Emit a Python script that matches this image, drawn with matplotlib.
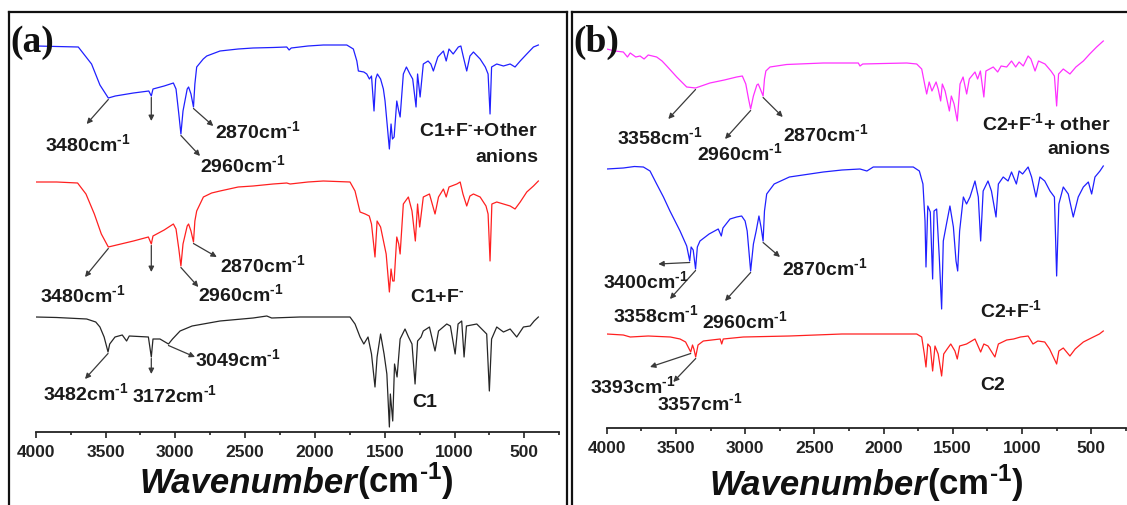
import numpy as np
import matplotlib
matplotlib.use('Agg')
import matplotlib.pyplot as plt
from matplotlib import font_manager
from matplotlib.lines import Line2D
from matplotlib.ticker import MultipleLocator

# FT-IR spectra, stacked (wavenumber in cm-1, transmittance in a.u. with offsets)
c1_other_wn = [4000, 3993, 3850, 3695, 3600, 3540, 3480, 3430, 3300, 3190, 3172, 3160, 3080, 3014, 2995,
               2975, 2960, 2945, 2915, 2905, 2888, 2870, 2860, 2847, 2800, 2775, 2680, 2550, 2443, 2300,
               2202, 2185, 2170, 2050, 1940, 1772, 1725, 1700, 1689, 1650, 1629, 1610, 1595, 1577, 1565,
               1553, 1530, 1510, 1498, 1467, 1455, 1445, 1433, 1414, 1400, 1390, 1367, 1345, 1320, 1300,
               1276, 1265, 1247, 1224, 1190, 1170, 1152, 1120, 1080, 1060, 1040, 1010, 973, 955, 937,
               913, 890, 865, 817, 780, 760, 746, 735, 698, 650, 602, 567, 530, 483, 435, 400]
c1_other_t = [386, 386, 385.5, 385, 368, 347, 334, 336, 339, 341, 336, 343, 346, 349, 343,
              318, 298, 321, 343, 345, 338, 325, 348, 365, 373, 376, 381, 383, 384, 384.5,
              385, 382, 384, 386, 387, 387, 383, 371, 361, 360, 358, 353, 356, 321, 353,
              358, 353, 343, 331, 283, 308, 293, 295, 331, 321, 315, 358, 365, 358, 353,
              325, 358, 335, 368, 371, 368, 361, 375, 381, 371, 383, 378, 385, 386, 375,
              361, 376, 380, 373, 365, 358, 318, 365, 368, 366, 368, 365, 371, 378, 385, 387]

c1_f_wn = [4000, 3850, 3700, 3640, 3580, 3530, 3480, 3420, 3300, 3193, 3172, 3160, 3080, 3014, 2995,
           2975, 2960, 2945, 2915, 2905, 2888, 2870, 2860, 2847, 2799, 2740, 2680, 2550, 2443, 2300,
           2202, 2178, 2050, 1940, 1749, 1713, 1677, 1640, 1611, 1595, 1570, 1555, 1530, 1490, 1467,
           1455, 1443, 1433, 1414, 1400, 1390, 1367, 1331, 1305, 1281, 1265, 1250, 1224, 1180, 1140,
           1115, 1080, 1060, 1040, 984, 960, 940, 913, 890, 865, 817, 775, 760, 746, 733,
           698, 650, 602, 567, 530, 483, 435, 400]
c1_f_t = [250, 250, 249, 238, 218, 198, 185, 187, 191, 195, 188, 196, 202, 208, 203,
          183, 166, 188, 206, 208, 201, 190, 211, 221, 235, 239, 241, 245, 246, 248,
          249, 248, 250, 251, 250, 241, 220, 218, 216, 208, 175, 211, 205, 178, 140,
          163, 151, 151, 195, 188, 178, 228, 235, 221, 191, 228, 205, 235, 238, 218,
          235, 243, 235, 245, 248, 250, 238, 226, 236, 238, 235, 226, 218, 171, 228,
          230, 228, 226, 223, 230, 240, 246, 251]

c1_wn = [4000, 3850, 3635, 3570, 3540, 3510, 3482, 3470, 3432, 3380, 3349, 3330, 3193, 3172, 3160,
         3110, 3049, 3020, 2966, 2880, 2680, 2443, 2345, 2310, 2107, 1940, 1830, 1749, 1713, 1677,
         1650, 1620, 1595, 1570, 1555, 1530, 1505, 1485, 1467, 1460, 1443, 1430, 1412, 1390, 1355,
         1330, 1305, 1283, 1265, 1240, 1224, 1180, 1140, 1115, 1056, 1030, 996, 975, 949, 932,
         915, 841, 770, 751, 735, 698, 650, 602, 555, 507, 459, 430, 400]
c1_t = [115, 114.5, 113, 110, 105, 95, 80, 88, 95, 97, 91, 96, 95, 75, 93,
        93, 88, 93, 101, 106, 111, 114, 116, 114, 115, 115, 115, 115, 108, 95,
        88, 95, 78, 45, 75, 98, 78, 58, 5, 38, 11, 68, 55, 93, 103,
        95, 88, 48, 91, 95, 101, 105, 81, 101, 108, 106, 78, 108, 111, 75,
        106, 108, 98, 41, 93, 105, 100, 103, 95, 105, 106, 111, 115]

c2_other_wn = [4000, 3940, 3880, 3850, 3830, 3790, 3759, 3730, 3700, 3639, 3600, 3566, 3494, 3422, 3358,
               3254, 3150, 3061, 3020, 2995, 2975, 2960, 2940, 2915, 2905, 2890, 2870, 2860, 2850, 2820,
               2700, 2435, 2300, 2182, 2170, 2150, 2000, 1832, 1760, 1724, 1700, 1688, 1670, 1650, 1620,
               1605, 1587, 1575, 1555, 1524, 1510, 1490, 1467, 1447, 1425, 1399, 1380, 1339, 1320, 1300,
               1275, 1260, 1207, 1175, 1150, 1110, 1075, 1045, 1020, 990, 955, 935, 905, 880, 833,
               790, 765, 749, 735, 701, 653, 610, 556, 510, 460, 412]
c2_other_t = [379, 377, 376, 371, 375, 371, 372, 369, 373, 371, 367, 362, 351, 341, 340,
              345, 348, 351, 352, 344, 329, 319, 332, 343, 344, 339, 332, 349, 357, 361,
              363.5, 365, 365, 365, 362, 364, 364.5, 365, 364, 359, 342, 334, 346, 337, 346,
              339, 327, 344, 337, 317, 332, 324, 307, 344, 351, 334, 349, 356, 349, 357,
              331, 357, 361, 356, 362, 361, 367, 361, 366, 362, 372, 369, 357, 367, 364,
              357, 352, 322, 354, 359, 354, 361, 367, 374, 381, 387]

c2_f_wn = [4000, 3880, 3800, 3735, 3687, 3639, 3590, 3543, 3470, 3422, 3400, 3390, 3375, 3358, 3345,
           3326, 3260, 3194, 3172, 3160, 3109, 3061, 3025, 3000, 2985, 2960, 2940, 2920, 2900, 2885,
           2870, 2860, 2844, 2790, 2680, 2435, 2300, 2170, 2120, 2074, 1929, 1785, 1741, 1715, 1700,
           1693, 1680, 1662, 1645, 1635, 1616, 1597, 1580, 1568, 1545, 1520, 1495, 1476, 1464, 1450,
           1423, 1400, 1375, 1339, 1315, 1298, 1280, 1245, 1220, 1187, 1170, 1135, 1100, 1075, 1040,
           1020, 995, 955, 930, 898, 870, 835, 797, 765, 749, 733, 701, 665, 629, 593,
           556, 520, 496, 472, 436, 412]
c2_f_t = [259, 260, 261.5, 261, 257, 244, 231, 217, 197, 182, 167, 181, 178, 159, 181,
          187, 194, 199, 192, 200, 209, 211, 212, 207, 197, 157, 184, 197, 212, 201,
          187, 217, 234, 244, 251, 256, 258, 259, 257, 261, 261, 261, 257, 244, 207,
          161, 222, 216, 149, 217, 219, 171, 119, 187, 204, 222, 201, 167, 157, 197,
          231, 224, 231, 247, 231, 187, 237, 247, 237, 211, 244, 251, 247, 256, 244,
          257, 254, 261, 251, 231, 251, 247, 237, 231, 152, 224, 241, 234, 211, 231,
          241, 246, 234, 251, 257, 262]

c2_wn = [4000, 3880, 3830, 3700, 3540, 3470, 3430, 3393, 3380, 3370, 3357, 3340, 3302, 3180, 3169,
         3158, 3013, 2680, 2300, 2146, 2000, 1760, 1724, 1705, 1693, 1680, 1662, 1645, 1628, 1605,
         1580, 1565, 1540, 1514, 1484, 1467, 1450, 1400, 1339, 1298, 1275, 1245, 1195, 1170, 1110,
         1060, 1010, 955, 920, 885, 835, 800, 749, 733, 701, 653, 615, 556, 484, 440, 412]
c2_t = [94, 93, 91, 92, 91, 89, 86, 76, 83, 79, 71, 83, 87, 89, 84,
        89, 91, 92, 94, 94, 94, 94, 91, 74, 61, 84, 81, 57, 82, 74,
        52, 74, 79, 84, 77, 69, 82, 84, 89, 76, 84, 82, 71, 84, 88,
        89, 91, 92, 84, 87, 86, 79, 64, 77, 80, 72, 79, 86, 91, 94, 97]

installed = {f.name for f in font_manager.fontManager.ttflist}
SANS = next((n for n in ('Liberation Sans Narrow', 'Arial Narrow', 'Liberation Sans')
             if n in installed), 'DejaVu Sans')
NARROW = SANS != 'Liberation Sans'
plt.rcParams['font.family'] = [SANS, 'DejaVu Sans']
plt.rcParams['font.weight'] = 'bold'

# short hyphen (U+2010) so mathtext does not swap in a wide minus sign
SUP1 = '$\\mathregular{^{\u20101}}$'
SUPM = '$\\mathregular{^{\u2010}}$'
ARROW_C = '#3a3a3a'
TXT_C = '#1a1a1a'
LBL = 16 if NARROW else 14
TICK = 14 if NARROW else 12.5
XLAB = 28 if NARROW else 25

W, H = 1127, 506
fig = plt.figure(figsize=(W / 100, H / 100), dpi=100)
ax_a = fig.add_axes([35.7 / W, 73 / H, 523.6 / W, 433 / H])
ax_b = fig.add_axes([606.7 / W, 77 / H, 519.0 / W, 429 / H])
ax_a.set_ylim(0, 433)
ax_b.set_ylim(0, 429)

for ax in (ax_a, ax_b):
    ax.set_xlim(4000, 250)
    ax.patch.set_visible(False)
    for side in ('top', 'left', 'right'):
        ax.spines[side].set_visible(False)
    ax.spines['bottom'].set_linewidth(1.3)
    ax.spines['bottom'].set_color('#222222')
    ax.set_yticks([])
    ax.xaxis.set_major_locator(MultipleLocator(500))
    ax.xaxis.set_minor_locator(MultipleLocator(250))
    ax.tick_params(axis='x', which='major', direction='out', length=4, width=1.2,
                   pad=4.5, labelsize=TICK, colors='#222222')
    ax.tick_params(axis='x', which='minor', direction='out', length=2.5, width=1.2,
                   colors='#222222')


def trace_at(wn, t, x):
    return np.interp(x, wn[::-1], t[::-1])


def mark_peak(ax, wn, t, x, head):
    y = trace_at(wn, t, x) - 1.5
    ax.annotate('', xy=head, xytext=(x, y),
                arrowprops=dict(arrowstyle='-|>', color=ARROW_C, lw=0.9,
                                mutation_scale=8, shrinkA=0, shrinkB=0))


def peak_label(ax, x, y, value):
    ax.text(x, y, f'{value}cm' + SUP1, ha='left', va='center', fontsize=LBL, color=TXT_C)


# ---- panel (a) ----
ax_a.plot(c1_other_wn, c1_other_t, color='#2020ff', lw=0.9)
ax_a.plot(c1_f_wn, c1_f_t, color='#ff2020', lw=0.9)
ax_a.plot(c1_wn, c1_t, color='#262626', lw=0.9)

mark_peak(ax_a, c1_other_wn, c1_other_t, 3480, (3635, 308))
mark_peak(ax_a, c1_other_wn, c1_other_t, 3172, (3172, 311))
mark_peak(ax_a, c1_other_wn, c1_other_t, 2870, (2728, 306))
mark_peak(ax_a, c1_other_wn, c1_other_t, 2960, (2823, 276))
peak_label(ax_a, 3933, 289, 3480)
peak_label(ax_a, 2716, 302, 2870)
peak_label(ax_a, 2823, 268, 2960)

mark_peak(ax_a, c1_f_wn, c1_f_t, 3480, (3647, 155))
mark_peak(ax_a, c1_f_wn, c1_f_t, 3172, (3172, 160))
mark_peak(ax_a, c1_f_wn, c1_f_t, 2870, (2703, 175))
mark_peak(ax_a, c1_f_wn, c1_f_t, 2960, (2835, 145))
peak_label(ax_a, 3969, 138, 3480)
peak_label(ax_a, 2680, 168, 2870)
peak_label(ax_a, 2837, 139, 2960)

mark_peak(ax_a, c1_wn, c1_t, 3482, (3647, 53))
mark_peak(ax_a, c1_wn, c1_t, 3172, (3172, 58))
mark_peak(ax_a, c1_wn, c1_t, 3049, (2859, 75))
peak_label(ax_a, 3948, 40, 3482)
peak_label(ax_a, 3310, 38, 3172)
peak_label(ax_a, 2859, 74, 3049)

ax_a.text(402, 301, 'C1+F' + SUPM + '+Other', ha='right', va='center', fontsize=LBL, color=TXT_C)
ax_a.text(402, 275, 'anions', ha='right', va='center', fontsize=LBL, color=TXT_C)
ax_a.text(1319, 136, 'C1+F' + SUPM, ha='left', va='center', fontsize=LBL, color=TXT_C)
ax_a.text(1305, 30, 'C1', ha='left', va='center', fontsize=LBL, color=TXT_C)

# ---- panel (b) ----
ax_b.plot(c2_other_wn, c2_other_t, color='#ff30ff', lw=0.9)
ax_b.plot(c2_f_wn, c2_f_t, color='#2020ff', lw=0.9)
ax_b.plot(c2_wn, c2_t, color='#ff2020', lw=0.9)

mark_peak(ax_b, c2_other_wn, c2_other_t, 3358, (3555, 309))
mark_peak(ax_b, c2_other_wn, c2_other_t, 2960, (3145, 289))
mark_peak(ax_b, c2_other_wn, c2_other_t, 2870, (2728, 311))
peak_label(ax_b, 3926, 292, 3358)
peak_label(ax_b, 3348, 276, 2960)
peak_label(ax_b, 2726, 295, 2870)

mark_peak(ax_b, c2_f_wn, c2_f_t, 3400, (3627, 164))
mark_peak(ax_b, c2_f_wn, c2_f_t, 3358, (3543, 129))
mark_peak(ax_b, c2_f_wn, c2_f_t, 2960, (3145, 127))
mark_peak(ax_b, c2_f_wn, c2_f_t, 2870, (2748, 171))
peak_label(ax_b, 4027, 148, 3400)
peak_label(ax_b, 3954, 114, 3358)
peak_label(ax_b, 3311, 108, 2960)
peak_label(ax_b, 2733, 161, 2870)

mark_peak(ax_b, c2_wn, c2_t, 3393, (3687, 61))
mark_peak(ax_b, c2_wn, c2_t, 3357, (3519, 46))
peak_label(ax_b, 4120, 43, 3393)
peak_label(ax_b, 3636, 26, 3357)

ax_b.text(363, 306, 'C2+F' + SUP1 + '+ other', ha='right', va='center', fontsize=LBL, color=TXT_C)
ax_b.text(363, 279, 'anions', ha='right', va='center', fontsize=LBL, color=TXT_C)
ax_b.text(1302, 119, 'C2+F' + SUP1, ha='left', va='center', fontsize=LBL, color=TXT_C)
ax_b.text(1302, 43, 'C2', ha='left', va='center', fontsize=LBL, color=TXT_C)

# axis titles: bold italic word followed by the unit
for ax, xj, yb in ((ax_a, 1698, -60), (ax_b, 1686, -66)):
    word = ax.text(xj, yb, 'Wavenumber', ha='right', va='baseline', fontsize=XLAB,
                   fontweight='bold', fontstyle='italic', color='#111111')
    ax.annotate('(cm' + SUP1 + ')', xy=(1, yb), xycoords=(word, 'data'),
                ha='left', va='baseline', fontsize=XLAB, fontweight='bold', color='#111111')

# panel frames and letters
frame = dict(color='#111111', lw=1.6, transform=fig.transFigure)
top = 1 - 13 / H
fig.add_artist(Line2D([9 / W, 9 / W], [-0.02, top], **frame))
fig.add_artist(Line2D([9 / W, 566.5 / W], [top, top], **frame))
fig.add_artist(Line2D([566.5 / W, 566.5 / W], [-0.02, top], **frame))
fig.add_artist(Line2D([571.5 / W, 571.5 / W], [-0.02, top], **frame))
fig.add_artist(Line2D([571.5 / W, 1.01], [top, top], **frame))

for xl, letter in ((10 / W, '(a)'), (573 / W, '(b)')):
    fig.text(xl, 1 - 42 / H, letter, ha='left', va='center', fontsize=27,
             family='Liberation Serif', fontweight='bold', color='#111111')

fig.savefig('out.png', dpi=100)
